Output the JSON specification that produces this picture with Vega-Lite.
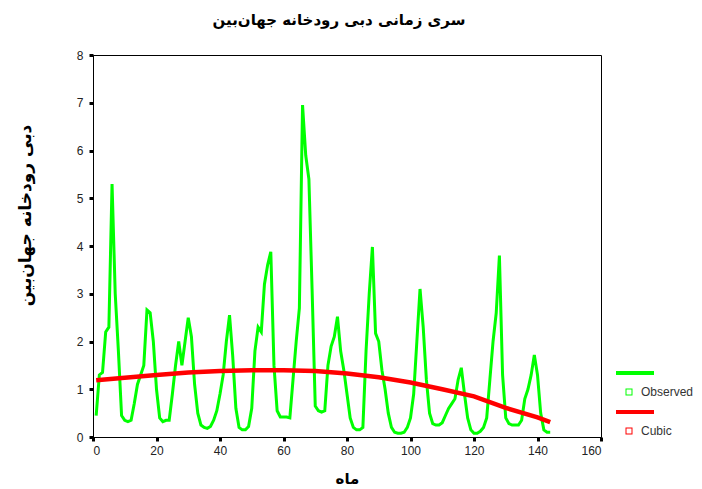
{
  "$schema": "https://vega.github.io/schema/vega-lite/v6.json",
  "width": 508,
  "height": 382,
  "autosize": {"type": "none"},
  "padding": {"left": 93, "top": 55, "right": 101, "bottom": 52},
  "background": "white",
  "title": {
    "text": "سری زمانی دبی رودخانه جهان‌بین",
    "font": "DejaVu Sans",
    "fontSize": 15,
    "fontWeight": "bold",
    "color": "#000",
    "anchor": "middle",
    "offset": 21,
    "dx": -8
  },
  "config": {
    "view": {"stroke": "#000", "strokeWidth": 1},
    "axis": {
      "domainColor": "#000",
      "domainWidth": 1,
      "tickColor": "#000",
      "tickWidth": 3,
      "tickSize": 4,
      "grid": false,
      "labelFont": "Liberation Sans",
      "labelFontSize": 12,
      "labelColor": "#222",
      "titleFont": "DejaVu Sans",
      "titleFontWeight": "bold",
      "titleColor": "#000"
    }
  },
  "data": {
    "values": [
      {"month": 1, "value": 0.45, "series": "Observed"},
      {"month": 2, "value": 1.3, "series": "Observed"},
      {"month": 3, "value": 1.35, "series": "Observed"},
      {"month": 4, "value": 2.2, "series": "Observed"},
      {"month": 5, "value": 2.3, "series": "Observed"},
      {"month": 6, "value": 5.3, "series": "Observed"},
      {"month": 7, "value": 3.0, "series": "Observed"},
      {"month": 8, "value": 1.8, "series": "Observed"},
      {"month": 9, "value": 0.45, "series": "Observed"},
      {"month": 10, "value": 0.35, "series": "Observed"},
      {"month": 11, "value": 0.32, "series": "Observed"},
      {"month": 12, "value": 0.35, "series": "Observed"},
      {"month": 13, "value": 0.7, "series": "Observed"},
      {"month": 14, "value": 1.1, "series": "Observed"},
      {"month": 15, "value": 1.3, "series": "Observed"},
      {"month": 16, "value": 1.5, "series": "Observed"},
      {"month": 17, "value": 2.66, "series": "Observed"},
      {"month": 18, "value": 2.6, "series": "Observed"},
      {"month": 19, "value": 2.0, "series": "Observed"},
      {"month": 20, "value": 1.0, "series": "Observed"},
      {"month": 21, "value": 0.4, "series": "Observed"},
      {"month": 22, "value": 0.32, "series": "Observed"},
      {"month": 23, "value": 0.35, "series": "Observed"},
      {"month": 24, "value": 0.35, "series": "Observed"},
      {"month": 25, "value": 0.9, "series": "Observed"},
      {"month": 26, "value": 1.5, "series": "Observed"},
      {"month": 27, "value": 2.0, "series": "Observed"},
      {"month": 28, "value": 1.5, "series": "Observed"},
      {"month": 29, "value": 2.0, "series": "Observed"},
      {"month": 30, "value": 2.5, "series": "Observed"},
      {"month": 31, "value": 2.1, "series": "Observed"},
      {"month": 32, "value": 1.1, "series": "Observed"},
      {"month": 33, "value": 0.5, "series": "Observed"},
      {"month": 34, "value": 0.25, "series": "Observed"},
      {"month": 35, "value": 0.2, "series": "Observed"},
      {"month": 36, "value": 0.18, "series": "Observed"},
      {"month": 37, "value": 0.22, "series": "Observed"},
      {"month": 38, "value": 0.35, "series": "Observed"},
      {"month": 39, "value": 0.55, "series": "Observed"},
      {"month": 40, "value": 0.9, "series": "Observed"},
      {"month": 41, "value": 1.3, "series": "Observed"},
      {"month": 42, "value": 2.0, "series": "Observed"},
      {"month": 43, "value": 2.55, "series": "Observed"},
      {"month": 44, "value": 1.7, "series": "Observed"},
      {"month": 45, "value": 0.6, "series": "Observed"},
      {"month": 46, "value": 0.2, "series": "Observed"},
      {"month": 47, "value": 0.15, "series": "Observed"},
      {"month": 48, "value": 0.15, "series": "Observed"},
      {"month": 49, "value": 0.22, "series": "Observed"},
      {"month": 50, "value": 0.6, "series": "Observed"},
      {"month": 51, "value": 1.8, "series": "Observed"},
      {"month": 52, "value": 2.3, "series": "Observed"},
      {"month": 53, "value": 2.2, "series": "Observed"},
      {"month": 54, "value": 3.2, "series": "Observed"},
      {"month": 55, "value": 3.6, "series": "Observed"},
      {"month": 56, "value": 3.88, "series": "Observed"},
      {"month": 57, "value": 1.5, "series": "Observed"},
      {"month": 58, "value": 0.55, "series": "Observed"},
      {"month": 59, "value": 0.42, "series": "Observed"},
      {"month": 60, "value": 0.42, "series": "Observed"},
      {"month": 61, "value": 0.42, "series": "Observed"},
      {"month": 62, "value": 0.4, "series": "Observed"},
      {"month": 63, "value": 1.2, "series": "Observed"},
      {"month": 64, "value": 2.0, "series": "Observed"},
      {"month": 65, "value": 2.7, "series": "Observed"},
      {"month": 66, "value": 6.95, "series": "Observed"},
      {"month": 67, "value": 5.9, "series": "Observed"},
      {"month": 68, "value": 5.4, "series": "Observed"},
      {"month": 69, "value": 3.1, "series": "Observed"},
      {"month": 70, "value": 0.65, "series": "Observed"},
      {"month": 71, "value": 0.55, "series": "Observed"},
      {"month": 72, "value": 0.52, "series": "Observed"},
      {"month": 73, "value": 0.55, "series": "Observed"},
      {"month": 74, "value": 1.5, "series": "Observed"},
      {"month": 75, "value": 1.9, "series": "Observed"},
      {"month": 76, "value": 2.1, "series": "Observed"},
      {"month": 77, "value": 2.52, "series": "Observed"},
      {"month": 78, "value": 1.8, "series": "Observed"},
      {"month": 79, "value": 1.4, "series": "Observed"},
      {"month": 80, "value": 0.9, "series": "Observed"},
      {"month": 81, "value": 0.4, "series": "Observed"},
      {"month": 82, "value": 0.2, "series": "Observed"},
      {"month": 83, "value": 0.15, "series": "Observed"},
      {"month": 84, "value": 0.15, "series": "Observed"},
      {"month": 85, "value": 0.2, "series": "Observed"},
      {"month": 86, "value": 1.8, "series": "Observed"},
      {"month": 87, "value": 3.0, "series": "Observed"},
      {"month": 88, "value": 3.98, "series": "Observed"},
      {"month": 89, "value": 2.17, "series": "Observed"},
      {"month": 90, "value": 2.0, "series": "Observed"},
      {"month": 91, "value": 1.4, "series": "Observed"},
      {"month": 92, "value": 1.0, "series": "Observed"},
      {"month": 93, "value": 0.5, "series": "Observed"},
      {"month": 94, "value": 0.2, "series": "Observed"},
      {"month": 95, "value": 0.1, "series": "Observed"},
      {"month": 96, "value": 0.08, "series": "Observed"},
      {"month": 97, "value": 0.08, "series": "Observed"},
      {"month": 98, "value": 0.1, "series": "Observed"},
      {"month": 99, "value": 0.2, "series": "Observed"},
      {"month": 100, "value": 0.4, "series": "Observed"},
      {"month": 101, "value": 0.9, "series": "Observed"},
      {"month": 102, "value": 2.0, "series": "Observed"},
      {"month": 103, "value": 3.1, "series": "Observed"},
      {"month": 104, "value": 2.3, "series": "Observed"},
      {"month": 105, "value": 1.2, "series": "Observed"},
      {"month": 106, "value": 0.5, "series": "Observed"},
      {"month": 107, "value": 0.28, "series": "Observed"},
      {"month": 108, "value": 0.25, "series": "Observed"},
      {"month": 109, "value": 0.25, "series": "Observed"},
      {"month": 110, "value": 0.3, "series": "Observed"},
      {"month": 111, "value": 0.45, "series": "Observed"},
      {"month": 112, "value": 0.6, "series": "Observed"},
      {"month": 113, "value": 0.7, "series": "Observed"},
      {"month": 114, "value": 0.8, "series": "Observed"},
      {"month": 115, "value": 1.2, "series": "Observed"},
      {"month": 116, "value": 1.45, "series": "Observed"},
      {"month": 117, "value": 0.9, "series": "Observed"},
      {"month": 118, "value": 0.4, "series": "Observed"},
      {"month": 119, "value": 0.15, "series": "Observed"},
      {"month": 120, "value": 0.08, "series": "Observed"},
      {"month": 121, "value": 0.08, "series": "Observed"},
      {"month": 122, "value": 0.12, "series": "Observed"},
      {"month": 123, "value": 0.2, "series": "Observed"},
      {"month": 124, "value": 0.4, "series": "Observed"},
      {"month": 125, "value": 1.2, "series": "Observed"},
      {"month": 126, "value": 2.0, "series": "Observed"},
      {"month": 127, "value": 2.6, "series": "Observed"},
      {"month": 128, "value": 3.8, "series": "Observed"},
      {"month": 129, "value": 1.3, "series": "Observed"},
      {"month": 130, "value": 0.4, "series": "Observed"},
      {"month": 131, "value": 0.28, "series": "Observed"},
      {"month": 132, "value": 0.25, "series": "Observed"},
      {"month": 133, "value": 0.25, "series": "Observed"},
      {"month": 134, "value": 0.25, "series": "Observed"},
      {"month": 135, "value": 0.35, "series": "Observed"},
      {"month": 136, "value": 0.8, "series": "Observed"},
      {"month": 137, "value": 1.0, "series": "Observed"},
      {"month": 138, "value": 1.3, "series": "Observed"},
      {"month": 139, "value": 1.72, "series": "Observed"},
      {"month": 140, "value": 1.3, "series": "Observed"},
      {"month": 141, "value": 0.5, "series": "Observed"},
      {"month": 142, "value": 0.15, "series": "Observed"},
      {"month": 143, "value": 0.1, "series": "Observed"},
      {"month": 144, "value": 0.1, "series": "Observed"},
      {"month": 1, "value": 1.19, "series": "Cubic"},
      {"month": 10, "value": 1.24, "series": "Cubic"},
      {"month": 20, "value": 1.3, "series": "Cubic"},
      {"month": 30, "value": 1.35, "series": "Cubic"},
      {"month": 40, "value": 1.38, "series": "Cubic"},
      {"month": 50, "value": 1.4, "series": "Cubic"},
      {"month": 60, "value": 1.4, "series": "Cubic"},
      {"month": 70, "value": 1.38, "series": "Cubic"},
      {"month": 80, "value": 1.33, "series": "Cubic"},
      {"month": 90, "value": 1.25, "series": "Cubic"},
      {"month": 100, "value": 1.14, "series": "Cubic"},
      {"month": 110, "value": 1.0, "series": "Cubic"},
      {"month": 120, "value": 0.85, "series": "Cubic"},
      {"month": 130, "value": 0.61, "series": "Cubic"},
      {"month": 140, "value": 0.41, "series": "Cubic"},
      {"month": 144, "value": 0.31, "series": "Cubic"}
    ]
  },
  "encoding": {
    "x": {
      "field": "month",
      "type": "quantitative",
      "scale": {"domain": [0, 160], "nice": false},
      "axis": {
        "values": [0, 20, 40, 60, 80, 100, 120, 140, 160],
        "title": "ماه",
        "titleFontSize": 15,
        "titlePadding": 15,
        "labelPadding": 4
      }
    },
    "y": {
      "field": "value",
      "type": "quantitative",
      "scale": {"domain": [0, 8], "nice": false},
      "axis": {
        "values": [0, 1, 2, 3, 4, 5, 6, 7, 8],
        "title": "دبی رودخانه جهان‌بین",
        "titleFontSize": 17,
        "titleX": -68,
        "titleY": 160,
        "titleAngle": 270,
        "titleAlign": "center",
        "titleBaseline": "middle",
        "labelPadding": 6
      }
    },
    "color": {
      "field": "series",
      "type": "nominal",
      "scale": {"domain": ["Observed", "Cubic"], "range": ["#00ff00", "#ff0000"]},
      "legend": {
        "title": null,
        "orient": "none",
        "legendX": 530,
        "legendY": 331,
        "padding": 0,
        "symbolType": "M-2.6,-4.2H5V-3.4H-2.6Z M-0.7,-0.7H0.7V0.7H-0.7Z M-0.5,-0.5V0.5H0.5V-0.5Z",
        "symbolSize": 100,
        "symbolStrokeWidth": 0,
        "labelFont": "Liberation Sans",
        "labelFontSize": 12,
        "labelColor": "#333",
        "labelOffset": 6,
        "rowPadding": 12,
        "encode": {
          "symbols": {
            "update": {
              "fill": {"scale": "color", "field": "value"},
              "fillOpacity": {"value": 1},
              "strokeWidth": {"value": 0}
            }
          }
        }
      }
    }
  },
  "layer": [
    {
      "transform": [{"filter": "datum.series === 'Observed'"}],
      "mark": {"type": "line", "strokeWidth": 3, "interpolate": "linear"}
    },
    {
      "transform": [{"filter": "datum.series === 'Cubic'"}],
      "mark": {"type": "line", "strokeWidth": 4.5, "interpolate": "linear"}
    }
  ]
}
